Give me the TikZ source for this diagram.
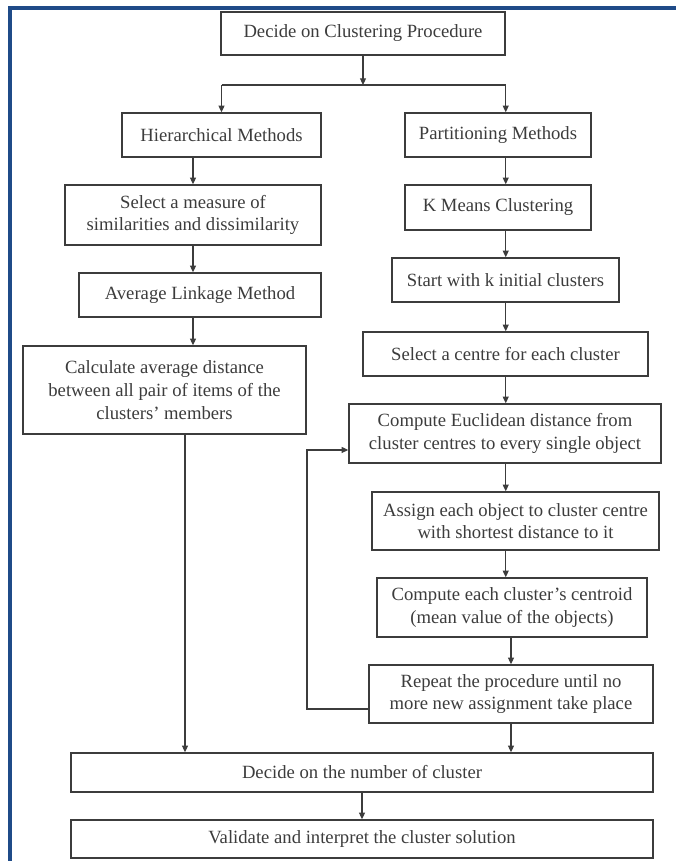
\documentclass[tikz,border=0pt]{standalone}
\usepackage{fontspec}
\setmainfont{Liberation Serif}
\usetikzlibrary{arrows.meta}
\definecolor{frameblue}{RGB}{31,75,136}
\definecolor{ink}{RGB}{60,60,60}

\begin{document}
\begin{tikzpicture}[
    x=0.75pt,y=-0.75pt,
    box/.style 2 args={draw=ink, line width=1.1pt, text=ink, align=center,
      inner sep=0pt, minimum width=#1*0.75pt, minimum height=#2*0.75pt,
      font=\fontsize{14}{17}\selectfont},
    line/.style={draw=ink, line width=0.8pt},
    arr/.style={line, -{Triangle[length=5pt,width=4.5pt]}}
    ]
    \useasboundingbox (0,0) rectangle (676,861);
    \fill[frameblue] (8,6) rectangle (676,9.5);
    \fill[frameblue] (8,6) rectangle (12,861);

    \node[box={284}{43}] (top) at (363,33.5) {Decide on Clustering Procedure};
    \node[box={199}{44}] (hier) at (221.5,135) {Hierarchical Methods};
    \node[box={186}{44}] (part) at (498,135) {Partitioning Methods};
    % hierarchical branch
    \node[box={256}{60}] (sel) at (193,215) {Select a measure of\\similarities and dissimilarity};
    \node[box={242}{44}] (avg) at (200,295) {Average Linkage Method};
    \node[box={283}{88}] (calc) at (164.5,390) {Calculate average distance\\between all pair of items of the\\clusters’ members};
    % partitioning branch
    \node[box={186}{45}] (kmeans) at (498,207.5) {K Means Clustering};
    \node[box={227}{44}] (start) at (505.5,280) {Start with k initial clusters};
    \node[box={285}{44}] (centre) at (505.5,354) {Select a centre for each cluster};
    \node[box={312}{59}] (euc) at (505,433.5) {Compute Euclidean distance from\\cluster centres to every single object};
    \node[box={287}{58}] (assign) at (515.5,521) {Assign each object to cluster centre\\with shortest distance to it};
    \node[box={270}{59}] (cent) at (512,607.5) {Compute each cluster’s centroid\\(mean value of the objects)};
    \node[box={284}{58}] (rep) at (511,694) {Repeat the procedure until no\\more new assignment take place};
    % common end
    \node[box={582}{39}] (decnum) at (362,772.5) {Decide on the number of cluster};
    \node[box={582}{38}] (valid) at (362,839) {Validate and interpret the cluster solution};

    \coordinate (split) at (363,85);
    \coordinate (lhs) at (185,600);
    \coordinate (back) at (307,600);

    \draw[arr] (top) -- (split);
    \draw[line] (split -| hier) -- (split -| top.east);
    \draw[arr] (split -| hier) -- (hier);
    \draw[arr] (split -| top.east) -- (part.north -| top.east);
    \draw[arr] (hier.south -| sel) -- (sel);
    \draw[arr] (sel) -- (avg.north -| sel);
    \draw[arr] (avg.south -| sel) -- (calc.north -| sel);
    \draw[arr] (calc.south -| lhs) -- (decnum.north -| lhs);
    \foreach \a/\b in {part/kmeans, kmeans/start, start/centre, centre/euc, euc/assign, assign/cent}
      \draw[arr] (\a.south -| top.east) -- (\b.north -| top.east);
    \draw[arr] (cent.south -| rep) -- (rep);
    \draw[arr] (rep) -- (decnum.north -| rep);
    \draw[arr] (rep.186) -| (back) |- (euc.186);
    \draw[arr] (decnum) -- (valid);
  \end{tikzpicture}
\end{document}
